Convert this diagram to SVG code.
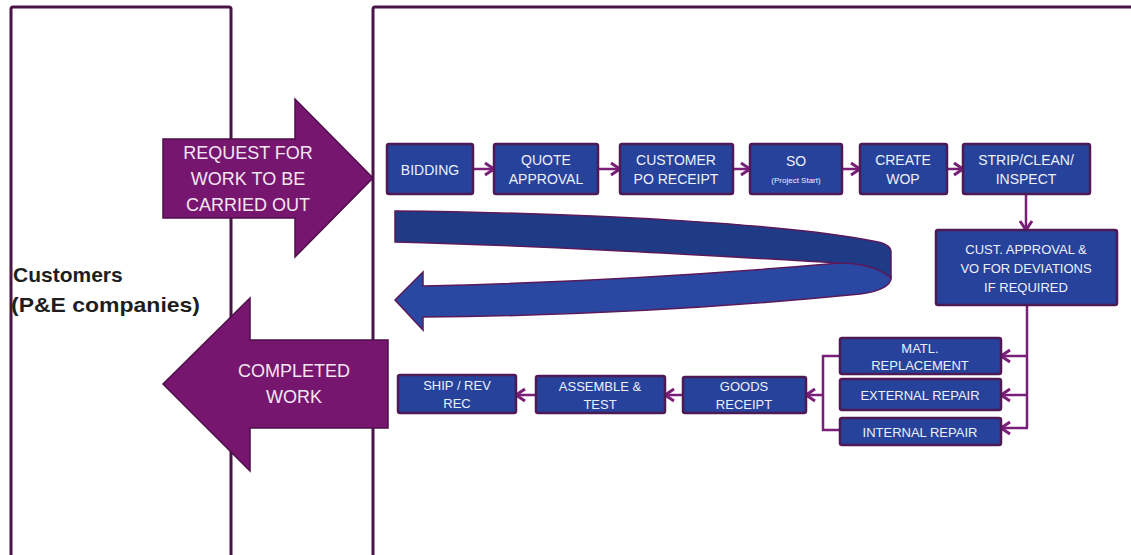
<svg xmlns="http://www.w3.org/2000/svg" width="1131" height="555" viewBox="0 0 1131 555">
<defs>
<style>
.panel{fill:none;stroke:#4b1446;stroke-width:3}
.box{fill:#26429a;stroke:#4d1a55;stroke-width:2.5}
.bt{font-family:"Liberation Sans",Arial,sans-serif;font-size:14px;fill:#eef0fa;text-anchor:middle;dominant-baseline:central}
.bt13{font-size:13px}
.small{font-size:8px}
.conn{fill:none;stroke:#7a1f78;stroke-width:2.5}
.big{fill:#76166f;stroke:#4e0f4a;stroke-width:1.5}
.bigt{font-family:"Liberation Sans",Arial,sans-serif;font-size:18px;fill:#f3e6f3;text-anchor:middle;dominant-baseline:central}
.cust{font-family:"Liberation Sans",Arial,sans-serif;font-size:21px;font-weight:bold;fill:#1e1e1e}
</style>
<marker id="ah" markerUnits="userSpaceOnUse" markerWidth="14" markerHeight="16" viewBox="0 0 14 16" refX="12" refY="8" orient="auto">
<path d="M3,2 L12,8 L3,14" fill="none" stroke="#7a1f78" stroke-width="3"/>
</marker>
</defs>

<g id="panels">
<path class="panel" d="M11,560 V9 Q11,7 13,7 H229 Q231,7 231,9 V560"/>
<path class="panel" d="M373,560 V9 Q373,7 375,7 H1135"/>
</g>

<g id="customers">
<text class="cust" x="13" y="282">Customers</text>
<text class="cust" x="11" y="312" textLength="189" lengthAdjust="spacingAndGlyphs">(P&amp;E companies)</text>
</g>

<g id="request-arrow">
<path class="big" d="M163,139 H295 V99 L373,178 L295,257 V218 H163 Z"/>
<text class="bigt" x="248" y="153">REQUEST FOR</text>
<text class="bigt" x="248" y="179">WORK TO BE</text>
<text class="bigt" x="248" y="205">CARRIED OUT</text>
</g>

<g id="completed-arrow">
<path class="big" d="M388,340 H250 V298 L163,384 L250,471 V428 H388 Z"/>
<text class="bigt" x="294" y="371">COMPLETED</text>
<text class="bigt" x="294" y="397">WORK</text>
</g>

<g id="uturn-arrow">
<path d="M423,286 C600,282 760,270 840,263 C870,261 891,268 891,278 C891,287 876,292 860,294 C720,308 560,316 423,317 L423,330 L395,300 L423,272 Z" fill="#2a48a2" stroke="#5a1a5a" stroke-width="1.5"/>
<path d="M395,211 C600,213 800,225 878,242 C887,244 891,247 891,252 L891,278 C880,268 860,263 840,263 C700,255 550,246 395,242 Z" fill="#1f3b85" stroke="#5a1a5a" stroke-width="1.5"/>
</g>

<g id="connectors">
<path class="conn" d="M473,169 H494" marker-end="url(#ah)"/>
<path class="conn" d="M598,169 H620" marker-end="url(#ah)"/>
<path class="conn" d="M733,169 H750" marker-end="url(#ah)"/>
<path class="conn" d="M842,169 H860" marker-end="url(#ah)"/>
<path class="conn" d="M947,169 H963" marker-end="url(#ah)"/>
<path class="conn" d="M1026,194 V230" marker-end="url(#ah)"/>
<path class="conn" d="M1027,305 V428"/>
<path class="conn" d="M1027,356 H1001" marker-end="url(#ah)"/>
<path class="conn" d="M1027,395 H1001" marker-end="url(#ah)"/>
<path class="conn" d="M1028,428 H1001" marker-end="url(#ah)"/>
<path class="conn" d="M840,356 H823 V430 H840"/>
<path class="conn" d="M823,395 H806" marker-end="url(#ah)"/>
<path class="conn" d="M683,395 H665" marker-end="url(#ah)"/>
<path class="conn" d="M536,395 H516" marker-end="url(#ah)"/>
</g>

<g id="bidding">
<rect class="box" x="387" y="144" width="86" height="50" rx="2"/>
<text class="bt" x="430" y="170">BIDDING</text>
</g>
<g id="quote-approval">
<rect class="box" x="494" y="144" width="104" height="50" rx="2"/>
<text class="bt" x="546" y="160">QUOTE</text>
<text class="bt" x="546" y="179">APPROVAL</text>
</g>
<g id="customer-po-receipt">
<rect class="box" x="620" y="144" width="113" height="50" rx="2"/>
<text class="bt" x="676" y="160">CUSTOMER</text>
<text class="bt" x="676" y="179">PO RECEIPT</text>
</g>
<g id="so">
<rect class="box" x="750" y="144" width="92" height="50" rx="2"/>
<text class="bt" x="796" y="161">SO</text>
<text class="bt small" x="796" y="180">(Project Start)</text>
</g>
<g id="create-wop">
<rect class="box" x="860" y="144" width="87" height="50" rx="2"/>
<text class="bt" x="903" y="160">CREATE</text>
<text class="bt" x="903" y="179">WOP</text>
</g>
<g id="strip-clean-inspect">
<rect class="box" x="963" y="144" width="127" height="50" rx="2"/>
<text class="bt" x="1026" y="160">STRIP/CLEAN/</text>
<text class="bt" x="1026" y="179">INSPECT</text>
</g>
<g id="cust-approval">
<rect class="box" x="936" y="230" width="181" height="75" rx="2"/>
<text class="bt bt13" x="1026" y="249">CUST. APPROVAL &amp;</text>
<text class="bt bt13" x="1026" y="268">VO FOR DEVIATIONS</text>
<text class="bt bt13" x="1026" y="287">IF REQUIRED</text>
</g>
<g id="matl-replacement">
<rect class="box" x="840" y="338" width="161" height="36" rx="2"/>
<text class="bt bt13" x="920" y="348">MATL.</text>
<text class="bt bt13" x="920" y="365">REPLACEMENT</text>
</g>
<g id="external-repair">
<rect class="box" x="840" y="379" width="161" height="31" rx="2"/>
<text class="bt bt13" x="920" y="395">EXTERNAL REPAIR</text>
</g>
<g id="internal-repair">
<rect class="box" x="840" y="418" width="161" height="27" rx="2"/>
<text class="bt bt13" x="920" y="432">INTERNAL REPAIR</text>
</g>
<g id="goods-receipt">
<rect class="box" x="683" y="377" width="123" height="36" rx="2"/>
<text class="bt bt13" x="744" y="386">GOODS</text>
<text class="bt bt13" x="744" y="404">RECEIPT</text>
</g>
<g id="assemble-test">
<rect class="box" x="536" y="376" width="129" height="37" rx="2"/>
<text class="bt bt13" x="600" y="386">ASSEMBLE &amp;</text>
<text class="bt bt13" x="600" y="404">TEST</text>
</g>
<g id="ship-rev-rec">
<rect class="box" x="398" y="375" width="118" height="38" rx="2"/>
<text class="bt bt13" x="457" y="385">SHIP / REV</text>
<text class="bt bt13" x="457" y="403">REC</text>
</g>
</svg>
